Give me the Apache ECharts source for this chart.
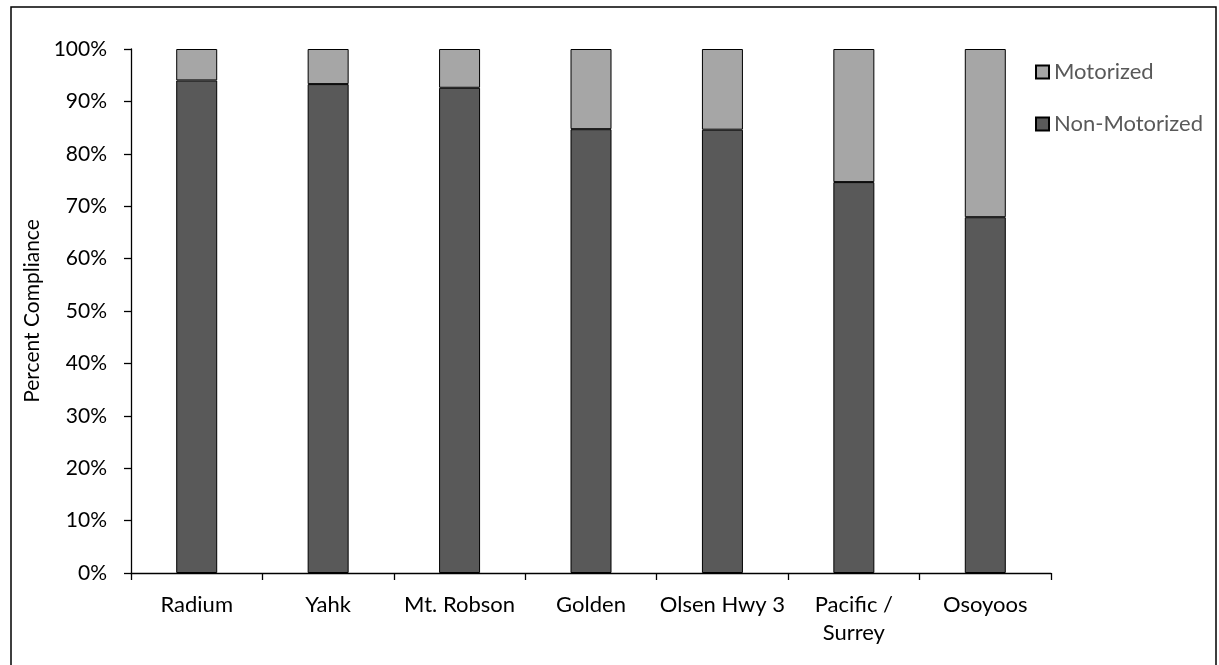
<!DOCTYPE html>
<html>
<head>
<meta charset="utf-8">
<script src="https://cdn.jsdelivr.net/npm/echarts@6/dist/echarts.min.js"></script>
<style>
  html, body { margin: 0; padding: 0; background: #fff; }
  #chart { width: 1219px; height: 665px; }
</style>
</head>
<body>
<div id="chart"></div>
<script>
// Border crossing sites
const categories = ['Radium', 'Yahk', 'Mt. Robson', 'Golden', 'Olsen Hwy 3', 'Pacific /\nSurrey', 'Osoyoos'];
// Share of compliance (%) by travel mode
const nonMotorized = [94.0, 93.3, 92.6, 84.7, 84.6, 74.6, 67.9];
const motorized = [6.0, 6.7, 7.4, 15.3, 15.4, 25.4, 32.1];
const yTicks = [0, 10, 20, 30, 40, 50, 60, 70, 80, 90, 100];

const FONT = 'Lato, "Open Sans", sans-serif';
const chart = echarts.init(document.getElementById('chart'), null, { renderer: 'canvas' });

chart.setOption({
  backgroundColor: '#ffffff',
  animation: false,
  textStyle: { fontFamily: FONT },
  graphic: [{
    type: 'rect',
    shape: { x: 11, y: 7, width: 1205, height: 680 },
    style: { fill: 'none', stroke: '#000', lineWidth: 1.5 },
    silent: true
  }],
  grid: { left: 131, right: 168, top: 49, bottom: 92, containLabel: false },
  legend: {
    orient: 'vertical',
    left: 1030,
    top: 56,
    itemWidth: 13,
    itemHeight: 13,
    itemGap: 30,
    icon: 'rect',
    data: ['Motorized', 'Non-Motorized'],
    textStyle: { fontFamily: FONT, fontSize: 22, lineHeight: 22, color: '#595959' }
  },
  xAxis: {
    type: 'category',
    data: categories,
    axisLine: { lineStyle: { color: '#000', width: 1.3 } },
    axisTick: { show: true, length: 7, lineStyle: { color: '#000', width: 1.3 } },
    axisLabel: { color: '#000', fontSize: 22, margin: 18, lineHeight: 28, fontFamily: FONT, interval: 0 }
  },
  yAxis: {
    type: 'value',
    min: 0,
    max: 100,
    interval: 10,
    name: 'Percent Compliance',
    nameLocation: 'middle',
    nameGap: 80,
    nameTextStyle: { fontSize: 21, color: '#000', fontFamily: FONT },
    splitLine: { show: false },
    axisLine: { show: true, lineStyle: { color: '#000', width: 1.3 } },
    axisTick: { show: true, length: 7, lineStyle: { color: '#000', width: 1.3 } },
    axisLabel: {
      color: '#000', fontSize: 21, margin: 24, fontFamily: FONT,
      formatter: v => (yTicks.includes(v) ? v + '%' : '')
    }
  },
  series: [
    {
      name: 'Non-Motorized',
      type: 'bar',
      stack: 'total',
      data: nonMotorized,
      barWidth: 41,
      itemStyle: { color: '#595959', borderColor: '#000', borderWidth: 1 }
    },
    {
      name: 'Motorized',
      type: 'bar',
      stack: 'total',
      data: motorized,
      barWidth: 41,
      itemStyle: { color: '#a6a6a6', borderColor: '#000', borderWidth: 1 }
    }
  ]
});
</script>
</body>
</html>
